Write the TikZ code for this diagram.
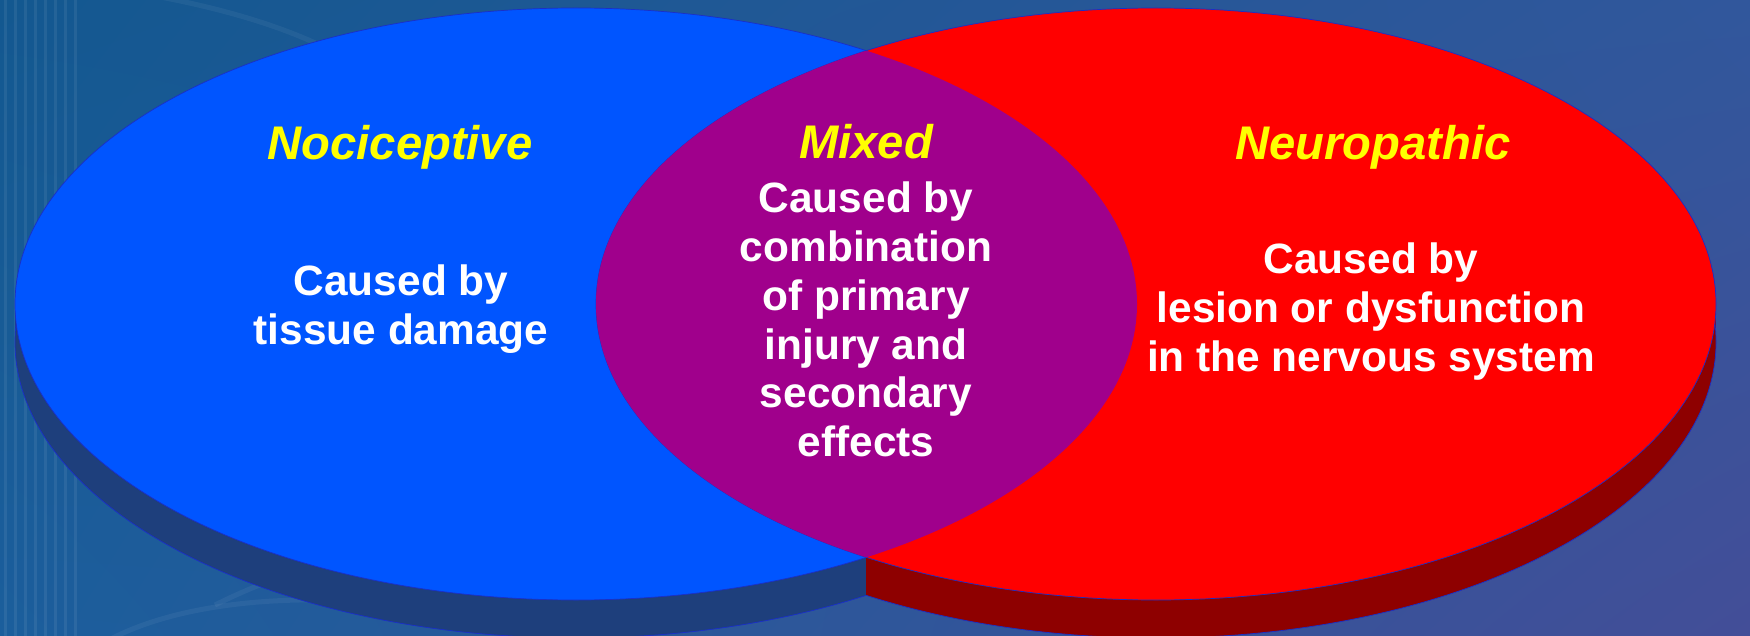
\documentclass[tikz,border=0pt]{standalone}
\usepackage{fontspec}
\setmainfont{Liberation Sans}
\usetikzlibrary{shadings}
\definecolor{bgUL}{HTML}{135890}
\definecolor{bgUR}{HTML}{31579C}
\definecolor{bgLL}{HTML}{1B5E9C}
\definecolor{bgLR}{HTML}{434E98}
\definecolor{nociTop}{HTML}{0055FF}
\definecolor{nociSide}{HTML}{1E3F7C}
\definecolor{neuroTop}{HTML}{FF0000}
\definecolor{neuroSide}{HTML}{8E0000}
\definecolor{mixTop}{HTML}{A0008C}
\definecolor{rimLine}{HTML}{1A2FC8}
\definecolor{headYellow}{HTML}{FFFF00}
\tikzset{
  headtext/.style={font=\fontsize{23.6}{27}\selectfont\bfseries\itshape,
    text=headYellow, inner sep=0pt, anchor=base},
  bodytext/.style={font=\fontsize{21.2}{24}\selectfont\bfseries,
    text=white, inner sep=0pt, anchor=base},
  rim/.style={draw=rimLine, line width=0.35pt},
  swoosh/.style={draw=white, opacity=0.05, line width=2.5pt},
}
\begin{document}
\begin{tikzpicture}[x=0.5pt,y=-0.5pt]
  % canvas: 1750 x 636 units
  \useasboundingbox (0,0) rectangle (1750,636);
  \begin{scope}
    \clip (0,0) rectangle (1750,636);
    % background
    \shade[upper left=bgUL, upper right=bgUR, lower left=bgLL, lower right=bgLR]
      (0,0) rectangle (1750,636);
    % vertical pin-stripes on the left edge
    \foreach \sx in {5,15,...,75}
      \fill[white, opacity=0.07] (\sx-1.5,0) rectangle (\sx+1.5,636);
    % faint swooshes
    \draw[swoosh] (150,-5) .. controls (220,8) and (280,25) .. (330,50);
    \draw[swoosh] (100,645) .. controls (150,615) and (230,598) .. (330,600);
    \draw[swoosh] (215,605) .. controls (245,590) and (275,578) .. (305,570);

    % side walls (extrusion) of both discs; the walls meet along x = 866
    \fill[nociSide] (576,342) ellipse [x radius=561, y radius=296];
    \fill[nociSide] (15,304) rectangle (1137,342);
    \draw[rim] (576,342) ellipse [x radius=561, y radius=296];
    \begin{scope}
      \clip (866,0) rectangle (1750,636);
      \fill[neuroSide] (1156,342) ellipse [x radius=560, y radius=296];
      \fill[neuroSide] (596,304) rectangle (1716,342);
      \draw[rim] (1156,342) ellipse [x radius=560, y radius=296];
    \end{scope}

    % top faces
    \fill[nociTop] (576,304) ellipse [x radius=561, y radius=296];
    \fill[neuroTop] (1156,304) ellipse [x radius=560, y radius=296];
    \draw[rim] (1156,304) ellipse [x radius=560, y radius=296];
    \begin{scope}
      \clip (576,304) ellipse [x radius=561, y radius=296];
      \fill[mixTop] (1156,304) ellipse [x radius=560, y radius=296];
    \end{scope}
    \begin{scope}
      \clip (1156,304) ellipse [x radius=560, y radius=296] (0,0) rectangle (1750,636);
      \draw[rim] (576,304) ellipse [x radius=561, y radius=296];
    \end{scope}
  \end{scope}

  % labels: nociceptive
  \node[headtext] (nocihead) at (400,160) {Nociceptive};
  \node[bodytext] (noci1) at (401,295) {Caused by};
  \node[bodytext] (noci2) at (401,344) {tissue damage};

  % labels: mixed
  \node[headtext] (mixhead) at (866,159) {Mixed};
  \node[bodytext] (mix1) at (866,213) {Caused by};
  \node[bodytext] (mix2) at (866,262) {combination};
  \node[bodytext] (mix3) at (866,310) {of primary};
  \node[bodytext] (mix4) at (866,359) {injury and};
  \node[bodytext] (mix5) at (866,407) {secondary};
  \node[bodytext] (mix6) at (866,456) {effects};

  % labels: neuropathic
  \node[headtext] (neurohead) at (1373,160) {Neuropathic};
  \node[bodytext] (neuro1) at (1371,274) {Caused by};
  \node[bodytext] (neuro2) at (1371,322) {lesion or dysfunction};
  \node[bodytext] (neuro3) at (1371,371) {in the nervous system};
\end{tikzpicture}
\end{document}
